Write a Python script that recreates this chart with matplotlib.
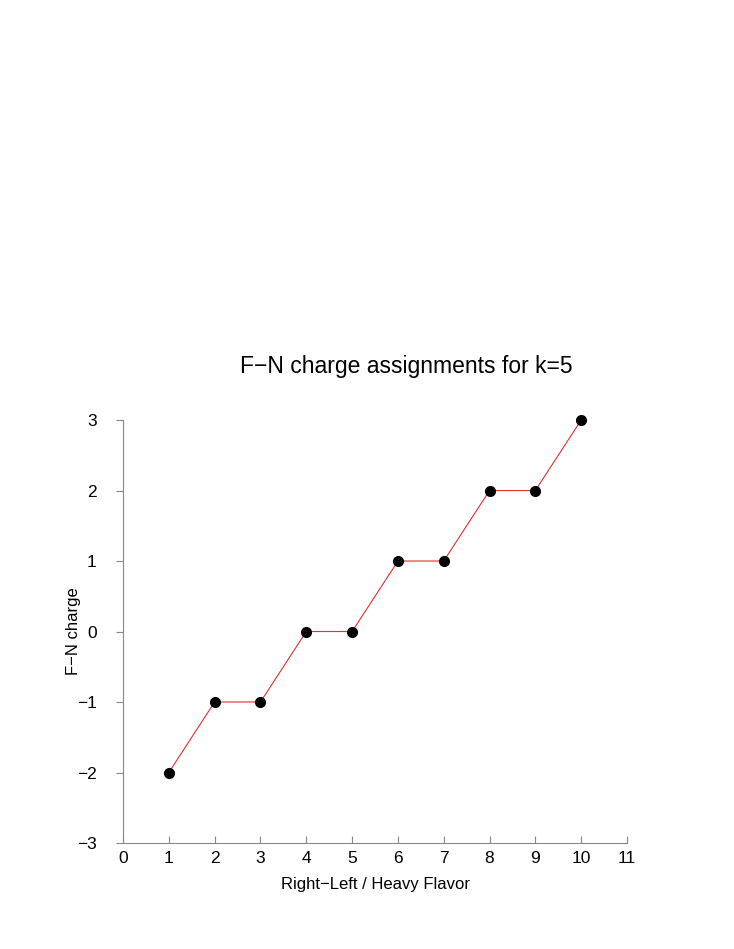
import numpy as np
import matplotlib
matplotlib.use('Agg')
import matplotlib.pyplot as plt

matplotlib.rcParams["font.family"] = ["Liberation Sans", "DejaVu Sans"]

# data
flavor = [1, 2, 3, 4, 5, 6, 7, 8, 9, 10]
charge = [-2, -1, -1, 0, 0, 1, 1, 2, 2, 3]
xticks = list(range(0, 12))
yticks = list(range(-3, 4))

fig = plt.figure(figsize=(7.34, 9.49), dpi=100)
ax = fig.add_axes([0.1676, 0.1117, 0.6866, 0.4457])

ax.plot(flavor, charge, color='#e03030', linewidth=0.8, zorder=2, clip_on=False)
ax.plot(flavor, charge, 'o', color='black', markersize=7, zorder=3, clip_on=False)

ax.set_xlim(0, 11)
ax.set_ylim(-3, 3)
ax.set_xticks(xticks)
ax.set_yticks(yticks)
ax.set_xticklabels([str(t).replace('-', '\u2212') for t in xticks])
ax.set_yticklabels([str(t).replace('-', '\u2212') for t in yticks])
ax.tick_params(axis='x', direction='in', length=5, color='#888888', labelsize=12.5, pad=6)
ax.tick_params(axis='y', direction='out', length=5, color='#888888', labelsize=12.5, pad=14)

for s in ['top', 'right']:
    ax.spines[s].set_visible(False)
for s in ['left', 'bottom']:
    ax.spines[s].set_color('#888888')
    ax.spines[s].set_linewidth(0.8)

ax.set_xlabel('Right\u2212Left / Heavy Flavor', fontsize=12)
ax.set_ylabel('F\u2212N charge', fontsize=12)
ax.xaxis.set_label_coords(0.5, -0.080)
ax.yaxis.set_label_coords(-0.083, 0.5)
fig.text(406 / 734, 1 - 366 / 949, 'F\u2212N charge assignments for k=5', fontsize=16.5,
         ha='center', va='center')

plt.savefig('out.png', dpi=100)
plt.close()
